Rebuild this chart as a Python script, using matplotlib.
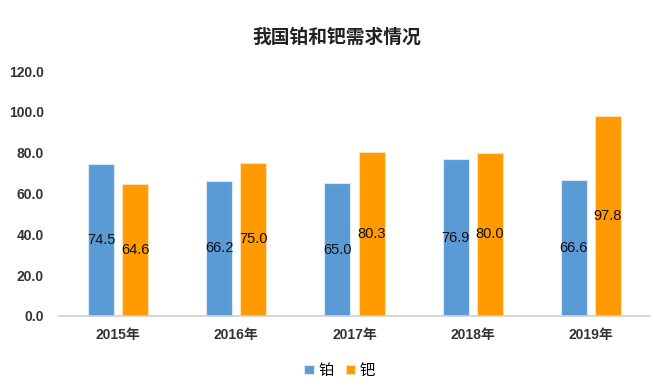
import numpy as np
import matplotlib.pyplot as plt

plt.rcParams['font.family'] = ['Liberation Sans', 'Noto Sans CJK SC', 'DejaVu Sans']

years = ["2015年", "2016年", "2017年", "2018年", "2019年"]
platinum = [74.5, 66.2, 65.0, 76.9, 66.6]
palladium = [64.6, 75.0, 80.3, 80.0, 97.8]
series_names = ["铂", "钯"]
yticks = [0, 20, 40, 60, 80, 100, 120]

c_blue = "#5B9BD5"
c_orange = "#FF9A00"

fig = plt.figure(figsize=(6.53, 3.91), dpi=100)
ax = fig.add_axes([0.0904, 0.192, 0.905, 0.626])

x = np.arange(len(years))
w = 0.22
off = 0.145
b1 = ax.bar(x - off, platinum, w, color=c_blue, edgecolor="#dbe8f5", linewidth=0.8, label=series_names[0])
b2 = ax.bar(x + off, palladium, w, color=c_orange, edgecolor="#ffe0b0", linewidth=0.8, label=series_names[1])

for bars, vals in ((b1, platinum), (b2, palladium)):
    for r, v in zip(bars, vals):
        ax.text(r.get_x() + r.get_width() / 2, v / 2, f"{v:.1f}", ha="center", va="center",
                fontsize=10.5, color="#111111")

ax.set_xlim(-0.5, len(years) - 0.5)
ax.set_ylim(0, 120)
ax.set_yticks(yticks)
ax.set_yticklabels([f"{t:.1f}" for t in yticks], fontsize=10, fontweight="bold", color="#333333")
ax.set_xticks(x)
ax.set_xticklabels(years, fontsize=10, fontweight="bold", color="#333333")
ax.tick_params(length=0)
ax.tick_params(axis="y", pad=11)
ax.tick_params(axis="x", pad=9)
for s in ["top", "right", "left"]:
    ax.spines[s].set_visible(False)
ax.spines["bottom"].set_color("#d0d0d0")
ax.spines["bottom"].set_linewidth(1.2)

fig.text(0.515, 0.905, "我国铂和钯需求情况", ha="center", va="center", fontsize=13.5, fontweight="bold", color="#222222")

fig.legend(loc="center", bbox_to_anchor=(0.52, 0.052), ncol=2, frameon=False, fontsize=11,
           handlelength=0.6, handleheight=0.6, handletextpad=0.3, columnspacing=0.8)

fig.savefig("out.png", dpi=100)
